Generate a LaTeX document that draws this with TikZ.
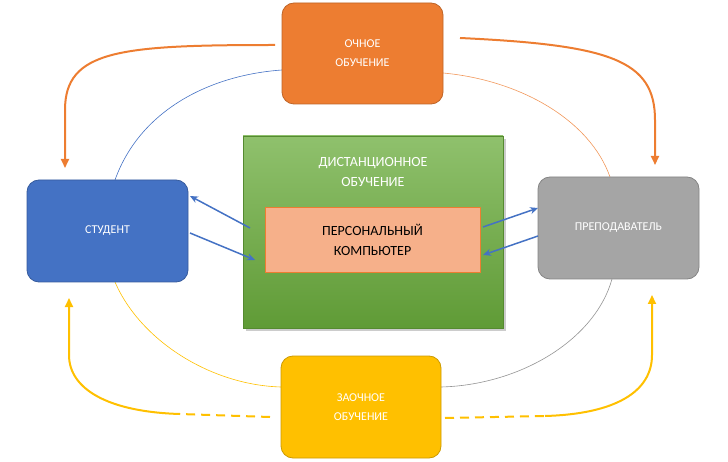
\documentclass[tikz,border=0pt]{standalone}
\usepackage{fontspec}
\setmainfont{Carlito}
\usetikzlibrary{arrows.meta,shadows}
\definecolor{cor}{HTML}{ED7D31}
\definecolor{cbl}{HTML}{4472C4}
\definecolor{cgr}{HTML}{A5A5A5}
\definecolor{cye}{HTML}{FFC000}
\definecolor{cgn}{HTML}{6AAC3C}
\definecolor{csa}{HTML}{F6B08A}
\begin{document}
\begin{tikzpicture}[x=1pt,y=-1pt,
  box/.style={rounded corners=12pt,draw=#1!80!black,line width=0.8pt,fill=#1,text=white,font=\fontsize{12}{15}\selectfont,align=center,inner sep=0pt},
  thin/.style={line width=0.6pt},
  thick/.style={line width=2pt,-{Triangle[length=9pt,width=8pt]}},
  barr/.style={draw=cbl,line width=1.5pt,-{Stealth[length=8pt,width=7pt]}}]
\useasboundingbox (0,0) rectangle (728,462);
% thin arcs
\draw[thin,cbl] (115,180) .. controls (140,110) and (210,75) .. (282,70);
\draw[thin,cor!80] (443,73) .. controls (520,80) and (590,120) .. (610,177);
\draw[thin,cye] (115,282) .. controls (140,340) and (210,385) .. (281,387);
\draw[thin,cgr!90!black] (441,387) .. controls (520,385) and (595,340) .. (612,279);
% nodes
\node[box=cor,minimum width=161pt,minimum height=101pt] (och) at (362.5,53.5) {ОЧНОЕ\\[4pt]ОБУЧЕНИЕ};
\node[box=cbl,minimum width=161pt,minimum height=102pt] (st) at (107.5,231) {СТУДЕНТ};
\node[box=cgr,minimum width=161pt,minimum height=102pt] (pr) at (618.5,228) {ПРЕПОДАВАТЕЛЬ};
\node[box=cye,minimum width=160pt,minimum height=102pt] (za) at (361,407) {ЗАОЧНОЕ\\[4pt]ОБУЧЕНИЕ};
\node[draw=cgn!80!black,top color=cgn!75!white,bottom color=cgn!90!black,minimum width=260pt,minimum height=192pt,inner sep=0pt,drop shadow={opacity=0.4,shadow xshift=3pt,shadow yshift=-3pt}] (di) at (373,232) {};
\node[text=white,font=\fontsize{14}{18}\selectfont,align=center] (dt) at (373,172) {ДИСТАНЦИОННОЕ\\[2pt]ОБУЧЕНИЕ};
\node[draw=cor,fill=csa,minimum width=215pt,minimum height=65pt,inner sep=0pt,font=\fontsize{14}{18}\selectfont,align=center] (pk) at (372.5,239.5) {ПЕРСОНАЛЬНЫЙ\\[2pt]КОМПЬЮТЕР};
% thick arrows
\coordinate (o1) at (275,45); \coordinate (o2) at (460,38);
\draw[thick,cor] (o1) .. controls (120,45) and (65,50) .. (65,110) -- (65,168);
\draw[thick,cor] (o2) .. controls (610,45) and (655,60) .. (655,120) -- (655,165);
\coordinate (y1) at (270,417); \coordinate (y2) at (445,418);
\draw[line width=2pt,cye,dashed,dash pattern=on 9pt off 6pt] (y1) -- (180,414);
\draw[thick,cye] (180,414) .. controls (110,412) and (69,390) .. (69,355) -- (69,298);
\draw[line width=2pt,cye,dash pattern=on 9pt off 6pt] (y2) -- (545,416);
\draw[thick,cye] (545,416) .. controls (615,414) and (652,392) .. (652,355) -- (652,295);
% blue arrows
\draw[barr] (250,228) -- (190,196);
\draw[barr] (190,233) -- (255,260);
\draw[barr] (483,227) -- (538,208);
\draw[barr] (538,236) -- (483,255);
\end{tikzpicture}
\end{document}
